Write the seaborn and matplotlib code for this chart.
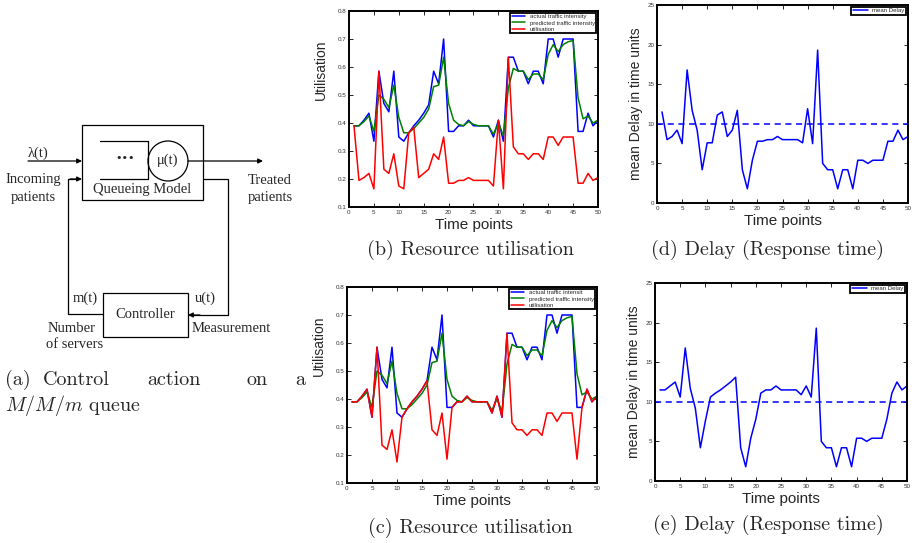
import numpy as np
import seaborn as sns
import matplotlib
matplotlib.use('Agg')
from matplotlib import pyplot as plt
from matplotlib.patches import Rectangle, Circle

# data
t = list(range(1, 51))
actual = [0.39, 0.39, 0.41, 0.435, 0.335, 0.585, 0.47, 0.44, 0.585, 0.35,
          0.335, 0.365, 0.39, 0.41, 0.435, 0.465, 0.585, 0.54, 0.70, 0.37,
          0.37, 0.39, 0.39, 0.41, 0.39, 0.39, 0.39, 0.39, 0.35, 0.41,
          0.335, 0.635, 0.635, 0.585, 0.585, 0.54, 0.585, 0.585, 0.54, 0.70,
          0.70, 0.635, 0.70, 0.70, 0.70, 0.37, 0.37, 0.435, 0.39, 0.41]
predicted = [0.39, 0.39, 0.405, 0.425, 0.37, 0.50, 0.485, 0.455, 0.535, 0.42,
             0.365, 0.365, 0.38, 0.40, 0.42, 0.45, 0.53, 0.535, 0.635, 0.47,
             0.41, 0.395, 0.39, 0.405, 0.395, 0.39, 0.39, 0.39, 0.36, 0.40,
             0.355, 0.525, 0.595, 0.585, 0.585, 0.555, 0.575, 0.575, 0.555, 0.645,
             0.68, 0.655, 0.68, 0.69, 0.695, 0.49, 0.415, 0.425, 0.40, 0.41]
util_b = [0.39, 0.195, 0.205, 0.22, 0.165, 0.585, 0.235, 0.22, 0.29, 0.175,
          0.165, 0.365, 0.385, 0.205, 0.22, 0.235, 0.29, 0.27, 0.35, 0.185,
          0.185, 0.195, 0.195, 0.205, 0.195, 0.195, 0.195, 0.195, 0.175, 0.41,
          0.165, 0.635, 0.315, 0.29, 0.29, 0.27, 0.29, 0.29, 0.27, 0.35,
          0.35, 0.32, 0.35, 0.35, 0.35, 0.185, 0.185, 0.22, 0.195, 0.205]
util_c = [0.39, 0.39, 0.41, 0.435, 0.335, 0.585, 0.235, 0.22, 0.29, 0.175,
          0.335, 0.365, 0.39, 0.41, 0.435, 0.465, 0.29, 0.27, 0.35, 0.185,
          0.37, 0.39, 0.39, 0.41, 0.39, 0.39, 0.39, 0.39, 0.35, 0.41,
          0.335, 0.635, 0.315, 0.29, 0.29, 0.27, 0.29, 0.29, 0.27, 0.35,
          0.35, 0.32, 0.35, 0.35, 0.35, 0.185, 0.37, 0.435, 0.39, 0.41]
delay_d = [11.5, 8.0, 8.4, 9.2, 7.5, 16.8, 11.7, 9.2, 4.2, 7.6,
           7.6, 11.1, 11.5, 8.4, 9.2, 11.7, 4.2, 1.8, 5.4, 7.8,
           7.8, 8.0, 8.0, 8.4, 8.0, 8.0, 8.0, 8.0, 7.6, 11.9,
           7.5, 19.3, 5.0, 4.2, 4.2, 1.8, 4.2, 4.2, 1.8, 5.4,
           5.4, 5.0, 5.4, 5.4, 5.4, 7.8, 7.8, 9.2, 8.0, 8.4]
delay_e = [11.5, 11.5, 12.0, 12.5, 10.6, 16.8, 11.7, 9.2, 4.2, 7.6,
           10.6, 11.1, 11.5, 12.0, 12.5, 13.1, 4.2, 1.8, 5.4, 7.8,
           11.1, 11.5, 11.5, 12.0, 11.5, 11.5, 11.5, 11.5, 10.9, 12.0,
           10.6, 19.3, 5.0, 4.2, 4.2, 1.8, 4.2, 4.2, 1.8, 5.4,
           5.4, 5.0, 5.4, 5.4, 5.4, 7.8, 11.1, 12.5, 11.5, 12.0]
delay_target = 10

sns.set_theme(style='white')
plt.rcParams['font.family'] = ['Liberation Sans', 'DejaVu Sans']
plt.rcParams['mathtext.fontset'] = 'cm'

W, H = 920, 543
fig = plt.figure(figsize=(W / 100, H / 100), dpi=100)


def px_axes(l, top, r, b):
    return fig.add_axes([l / W, 1 - b / H, (r - l) / W, (b - top) / H])


def style_axes(ax):
    ax.tick_params(direction='in', length=3, width=0.6, labelsize=4.5,
                   top=True, right=True, bottom=True, left=True,
                   labelcolor='#333333', pad=2, color='black')
    for s in ax.spines.values():
        s.set_color('black')
        s.set_linewidth(1.4)


def util_plot(ax, util, lab_actual):
    sns.lineplot(x=t, y=actual, color='#0000ff', lw=1.1, ax=ax, label=lab_actual)
    sns.lineplot(x=t, y=predicted, color='#008000', lw=1.1, ax=ax,
                 label='predicted traffic intensity')
    sns.lineplot(x=t, y=util, color='#ff0000', lw=1.1, ax=ax, label='utilisation')
    ax.set_xlim(0, 50)
    ax.set_ylim(0.1, 0.8)
    ax.set_xticks(range(0, 51, 5))
    ax.set_yticks(np.arange(0.1, 0.81, 0.1))
    ax.set_xlabel('Time points', fontsize=11, labelpad=2)
    ax.set_ylabel('Utilisation', fontsize=10)
    ax.yaxis.set_label_coords(-0.085, 0.7)
    style_axes(ax)
    leg = ax.legend(loc='upper right', fontsize=4.3, handlelength=2.2,
                    borderaxespad=0.3, fancybox=False, framealpha=1,
                    borderpad=0.25, labelspacing=0.15)
    leg.get_frame().set_edgecolor('black')
    leg.get_frame().set_linewidth(1.3)


def delay_plot(ax, delay):
    sns.lineplot(x=t, y=delay, color='#0000ff', lw=1.1, ax=ax, label='mean Delay')
    ax.axhline(delay_target, color='#0000ff', lw=1.1, ls=(0, (4, 3)))
    ax.set_xlim(0, 50)
    ax.set_ylim(0, 25)
    ax.set_xticks(range(0, 51, 5))
    ax.set_yticks(range(0, 26, 5))
    ax.set_xlabel('Time points', fontsize=11, labelpad=2)
    ax.set_ylabel('mean Delay in time units', fontsize=10, labelpad=3)
    style_axes(ax)
    leg = ax.legend(loc='upper right', fontsize=4.3, handlelength=2.5,
                    borderaxespad=0.3, fancybox=False, framealpha=1,
                    borderpad=0.25)
    leg.get_frame().set_edgecolor('black')
    leg.get_frame().set_linewidth(1.3)


ax_b = px_axes(349, 11, 598, 207)
util_plot(ax_b, util_b, 'actual traffic intensity')
ax_c = px_axes(347, 287, 597, 483)
util_plot(ax_c, util_c, 'actual traffic intensit')
ax_d = px_axes(657, 5, 908, 203)
delay_plot(ax_d, delay_d)
ax_e = px_axes(655, 283, 907, 481)
delay_plot(ax_e, delay_e)

# captions
cap = dict(family='cmr10', fontsize=14.5, ha='center', va='center')
fig.text(470 / W, 1 - 250 / H, '(b) Resource utilisation', **cap)
fig.text(768 / W, 1 - 250 / H, '(d) Delay (Response time)', **cap)
fig.text(470 / W, 1 - 528 / H, '(c) Resource utilisation', **cap)
fig.text(768 / W, 1 - 525 / H, '(e) Delay (Response time)', **cap)

# diagram (a), drawn in pixel coordinates
ax_a = fig.add_axes([0, 0, 330 / W, 1])
ax_a.set_xlim(0, 330)
ax_a.set_ylim(H, 0)
ax_a.axis('off')
lw = 0.9
ax_a.add_patch(Rectangle((82, 125), 121, 75, fill=False, lw=lw, ec='black'))
ax_a.add_patch(Rectangle((103, 293), 85, 44, fill=False, lw=lw, ec='black'))
ax_a.plot([100, 148, 148, 100], [141, 141, 179, 179], color='black', lw=lw)
ax_a.add_patch(Circle((168, 161), 20, fill=False, lw=lw, ec='black'))
ax_a.plot([203, 228, 228, 190], [179, 179, 315, 315], color='black', lw=lw)
ax_a.plot([103, 68, 68, 75], [314, 314, 179, 179], color='black', lw=lw)
arr = dict(arrowstyle='-|>', lw=lw, color='black', mutation_scale=7, shrinkA=0, shrinkB=0)
ax_a.annotate('', xy=(82, 161), xytext=(28, 161), arrowprops=arr)
ax_a.annotate('', xy=(263, 161), xytext=(188, 161), arrowprops=arr)
ax_a.annotate('', xy=(82, 179), xytext=(70, 179), arrowprops=arr)
ax_a.annotate('', xy=(188, 315), xytext=(200, 315), arrowprops=arr)

tx = dict(family='Liberation Serif', fontsize=10.5, va='center')
ax_a.text(125, 158, '\u2022\u2022\u2022', ha='center', fontsize=8, family='DejaVu Sans', va='center')
ax_a.text(168, 160, '\u03bc(t)', ha='center', **tx)
ax_a.text(28, 153, '\u03bb(t)', ha='left', **tx)
ax_a.text(33, 180, 'Incoming', ha='center', **tx)
ax_a.text(33, 197, 'patients', ha='center', **tx)
ax_a.text(142, 190, 'Queueing Model', ha='center', **tx)
ax_a.text(270, 180, 'Treated', ha='center', **tx)
ax_a.text(270, 197, 'patients', ha='center', **tx)
ax_a.text(85, 298, 'm(t)', ha='center', **tx)
ax_a.text(205, 298, 'u(t)', ha='center', **tx)
ax_a.text(145, 315, 'Controller', ha='center', **tx)
ax_a.text(72, 328, 'Number', ha='center', **tx)
ax_a.text(75, 345, 'of servers', ha='center', **tx)
ax_a.text(192, 328, 'Measurement', ha='left', **tx)

capa = dict(family='cmr10', fontsize=14.5, va='center', ha='left')
for word, x in [('(a)', 5), ('Control', 43), ('action', 147), ('on', 247), ('a', 295)]:
    ax_a.text(x, 380, word, **capa)
ax_a.text(5, 406, r'$M/M/m$ queue', **capa)

fig.savefig('out.png', dpi=100)
